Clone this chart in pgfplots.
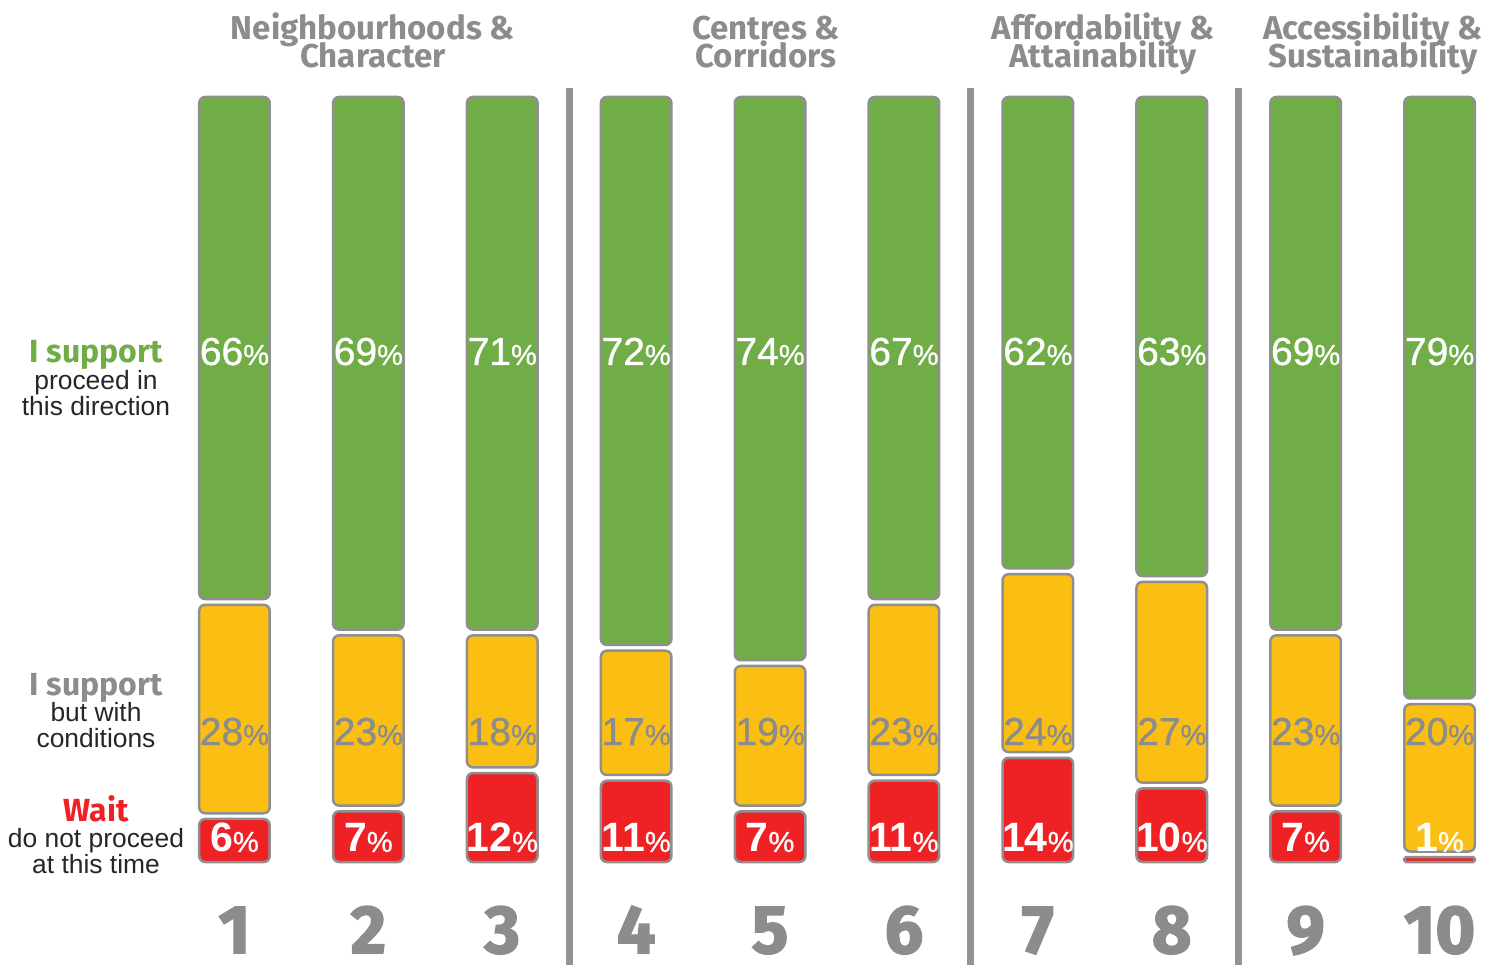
\documentclass[border=0pt]{standalone}
\usepackage{pgfplots}
\usepackage{pgfplotstable}
\pgfplotsset{compat=1.18}
\usepackage{fontspec}
\setmainfont{Liberation Sans}
\newfontfamily\fira{Fira Sans}
\newfontfamily\heavy[BoldFeatures={FakeBold=2.5}]{Fira Sans}
\newfontfamily\numfont[FakeBold=0.9]{Liberation Sans}
\definecolor{cgreen}{HTML}{70AD47}
\definecolor{cyellow}{HTML}{FBBF14}
\definecolor{cred}{HTML}{EE2124}
\definecolor{cborder}{HTML}{8F8F8F}
\definecolor{cgray}{HTML}{8C8C8C}
\definecolor{csep}{HTML}{939393}
\pgfplotstableread{
x red yel grn
1 6 28 66
2 7 23 69
3 12 18 71
4 11 17 72
5 7 19 74
6 11 23 67
7 14 24 62
8 10 27 63
9 7 23 69
10 1 20 79
}\data
\pgfplotsset{frame/.style={at={(0,0)}, anchor=south west, scale only axis,
  width=749.5pt, height=482pt, xmin=-0.751, xmax=10.444, ymin=-13.33, ymax=112.68,
  hide axis, clip=false}}
\newcommand{\pctG}{\numfont\fontsize{19.5}{19.5}\selectfont\pgfplotspointmeta\fontsize{14.5}{14.5}\selectfont\%}
\newcommand{\pctR}{\bfseries\fontsize{20.5}{20.5}\selectfont\pgfplotspointmeta\mdseries\numfont\fontsize{14.5}{14.5}\selectfont\%}
\begin{document}
\begin{tikzpicture}
% stacked bars (red as invisible base, drawn separately below)
\begin{axis}[frame, name=ax, ybar stacked, bar width=0.527]
\addplot[fill=none, draw=none] table[x=x, y expr=\thisrow{red}-0.375]{\data};
\addplot[fill=none, draw=none] table[x=x, y expr=0.75]{\data};
\addplot[fill=cyellow, draw=cborder, line width=1.25pt, rounded corners=3pt] table[x=x, y expr=\thisrow{yel}-0.75]{\data};
\addplot[fill=none, draw=none] table[x=x, y expr=0.75]{\data};
\addplot[fill=cgreen, draw=cborder, line width=1.25pt, rounded corners=3pt] table[x=x, y expr=100-\thisrow{red}-\thisrow{yel}-0.375]{\data};
\end{axis}
% red bars, from 0
\begin{axis}[frame, ybar, bar width=0.527, bar shift=0pt]
\addplot[fill=cred, draw=cborder, line width=1.25pt, rounded corners=3pt,
  restrict expr to domain={\thisrow{red}}{2:100}] table[x=x, y expr=\thisrow{red}-0.375]{\data};
\addplot[fill=cred, draw=cborder, line width=1.25pt, rounded corners=0.8pt,
  restrict expr to domain={\thisrow{red}}{0:2}] table[x=x, y expr=\thisrow{red}-0.375]{\data};
\end{axis}
\begin{axis}[frame]
% separators
\addplot[csep, line width=3.5pt] coordinates {(3.5,-13.4) (3.5,101.2)};
\addplot[csep, line width=3.5pt] coordinates {(6.5,-13.4) (6.5,101.2)};
\addplot[csep, line width=3.5pt] coordinates {(8.5,-13.4) (8.5,101.2)};
% value labels
\addplot[draw=none, mark=none, point meta=explicit symbolic, nodes near coords={\pctG},
  every node near coord/.append style={anchor=base, inner sep=0pt, text=white}]
  table[x=x, y expr=64.97, meta=grn]{\data};
\addplot[draw=none, mark=none, point meta=explicit symbolic, nodes near coords={\pctG},
  every node near coord/.append style={anchor=base, inner sep=0pt, text=cgray}]
  table[x=x, y expr=15.29, meta=yel]{\data};
\addplot[draw=none, mark=none, point meta=explicit symbolic, nodes near coords={\pctR},
  every node near coord/.append style={anchor=base, inner sep=0pt, text=white}]
  table[x=x, y expr=1.31, meta=red]{\data};
% category numbers
\addplot[draw=none, mark=none, point meta=explicit symbolic,
  nodes near coords={\heavy\bfseries\fontsize{34}{34}\selectfont\pgfplotspointmeta},
  every node near coord/.append style={anchor=base, inner sep=0pt, text=cgray}]
  table[x=x, y expr=-11.9, meta=x]{\data};
% group titles
\begin{scope}[every node/.style={anchor=base, inner sep=0pt, text=cgray, font=\fira\bfseries\fontsize{16.5}{16.5}\selectfont}]
\node at (axis cs:2.034,107.58) {Neighbourhoods \&};
\node at (axis cs:2.034,103.92) {Character};
\node at (axis cs:4.97,107.58) {Centres \&};
\node at (axis cs:4.97,103.92) {Corridors};
\node at (axis cs:7.486,107.58) {Affordability \&};
\node at (axis cs:7.486,103.92) {Attainability};
\node at (axis cs:9.503,107.58) {Accessibility \&};
\node at (axis cs:9.503,103.92) {Sustainability};
\end{scope}
% left legend labels
\begin{scope}[every node/.style={anchor=base, inner sep=0pt, font=\fontsize{13.2}{13.2}\selectfont, text=black!85}]
\node[text=cgreen, font=\fira\bfseries\fontsize{16}{16}\selectfont] at (axis cs:-0.034,65.36) {I support};
\node at (axis cs:-0.034,61.83) {proceed in};
\node at (axis cs:-0.034,58.43) {this direction};
\node[text=cgray, font=\fira\bfseries\fontsize{16}{16}\selectfont] at (axis cs:-0.034,21.83) {I support};
\node at (axis cs:-0.034,18.43) {but with};
\node at (axis cs:-0.034,15.03) {conditions};
\node[text=cred, font=\fira\bfseries\fontsize{16}{16}\selectfont] at (axis cs:-0.034,5.36) {Wait};
\node at (axis cs:-0.034,1.96) {do not proceed};
\node at (axis cs:-0.034,-1.44) {at this time};
\end{scope}
\end{axis}
\pgfresetboundingbox
\path (ax.south west) rectangle (ax.north east);
\end{tikzpicture}
\end{document}
